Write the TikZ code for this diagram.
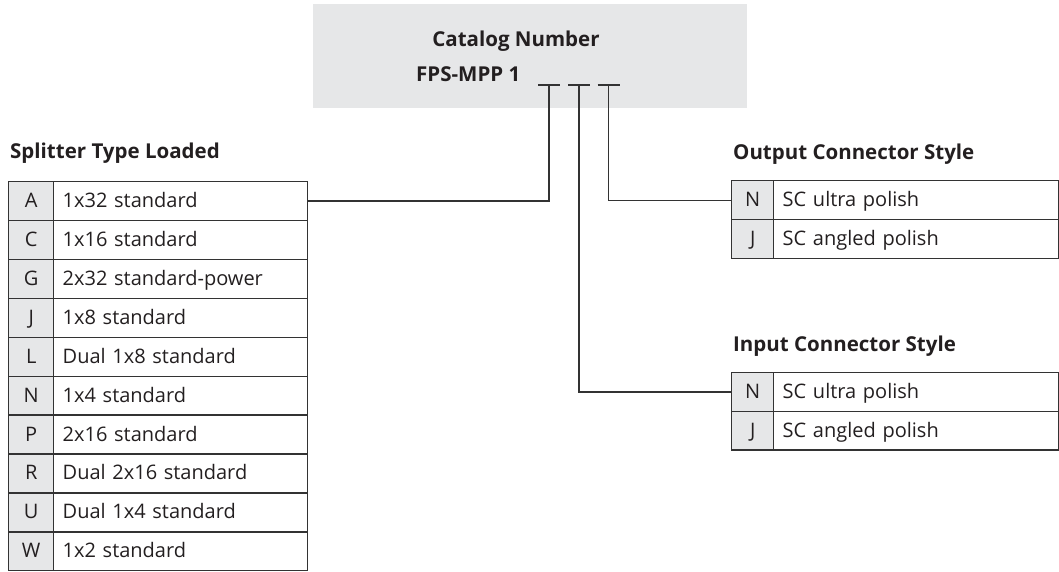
\documentclass[tikz,border=0pt]{standalone}
\usepackage{fontspec}
\setmainfont{Open Sans}
\definecolor{boxgray}{HTML}{E6E7E8}
\definecolor{ink}{HTML}{231F20}
\definecolor{rule}{HTML}{333333}
\begin{document}
\begin{tikzpicture}[x=1pt,y=-1pt,
  every node/.style={text=ink},
  title/.style={font=\fontsize{20.5}{24}\selectfont\bfseries, anchor=base west, inner sep=0},
  lcell/.style={draw=rule, line width=1.4pt, fill=boxgray, anchor=north west, inner sep=0,
     minimum height=#1, font=\fontsize{20}{24}\selectfont, text height=15, text depth=2},
  dcell/.style={draw=rule, line width=1.4pt, anchor=north west, inner xsep=9, inner ysep=0,
     minimum height=#1, align=left, font=\fontsize{20}{24}\selectfont, text height=15, text depth=2},
  conn/.style={draw=rule, line width=1.4pt},
]
\useasboundingbox (0,0) rectangle (1059,572);
% catalog number box
\fill[boxgray] (313,4) rectangle (747,108);
\node[font=\fontsize{20.5}{24}\selectfont\bfseries, anchor=base, inner sep=0] (cat) at (516,47) {Catalog Number};
\node[font=\fontsize{20.5}{24}\selectfont\bfseries, anchor=base west, inner sep=0] (fps) at (416,82) {FPS-MPP 1};
\coordinate (b1) at (549,85);
\coordinate (b2) at (579,85);
\coordinate (b3) at (608.5,85);
\foreach \b in {b1,b2,b3}{
  \draw[conn] ([xshift=-11pt]\b) -- ([xshift=11pt]\b);
}
% Splitter table
\node[title] (ts) at (10,159) {Splitter Type Loaded};
\foreach \l/\d [count=\i from 0] in {A/1x32 standard, C/1x16 standard, G/2x32 standard-power, J/1x8 standard, L/Dual 1x8 standard, N/1x4 standard, P/2x16 standard, R/Dual 2x16 standard, U/Dual 1x4 standard, W/1x2 standard}{
  \node[lcell=38.9, minimum width=45] (s\l l) at (8,181+38.9*\i) {\l};
  \node[dcell=38.9, text width=236] (s\l d) at (53,181+38.9*\i) {\d};
}
% Output table
\node[title] (to) at (733,160) {Output Connector Style};
\foreach \l/\d [count=\i from 0] in {N/SC ultra polish, J/SC angled polish}{
  \node[lcell=39, minimum width=42] (o\l l) at (731,180+39*\i) {\l};
  \node[dcell=39, text width=267] (o\l d) at (773,180+39*\i) {\d};
}
% Input table
\node[title] (ti) at (733,351) {Input Connector Style};
\foreach \l/\d [count=\i from 0] in {N/SC ultra polish, J/SC angled polish}{
  \node[lcell=38.7, minimum width=42] (i\l l) at (731,372+38.7*\i) {\l};
  \node[dcell=38.7, text width=267] (i\l d) at (773,372+38.7*\i) {\d};
}
% connectors
\draw[conn] (b1) |- (sAd.east);
\draw[conn] (b3) |- (oNl.west);
\draw[conn] (b2) |- (iNl.west);
\end{tikzpicture}
\end{document}
